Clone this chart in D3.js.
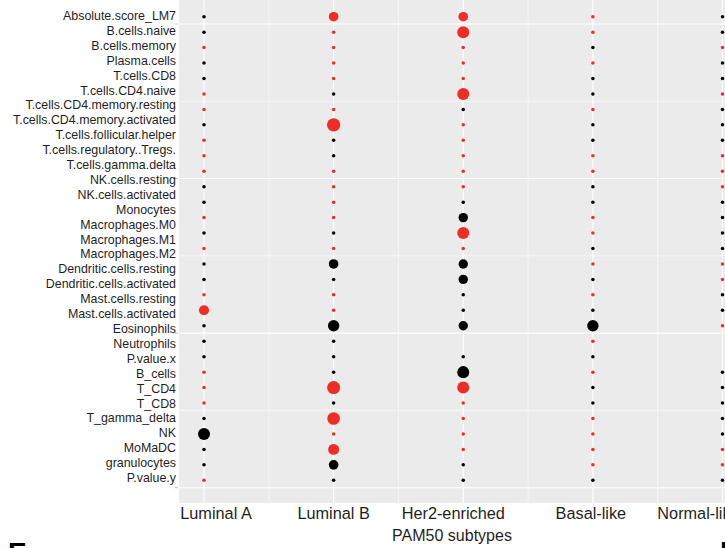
<!DOCTYPE html>
<html>
<head>
<meta charset="utf-8">
<script src="https://cdn.jsdelivr.net/npm/d3@7"></script>
<style>
  html, body { margin: 0; padding: 0; background: #fff; }
  svg { display: block; font-family: "Liberation Sans", Arial, sans-serif; }
</style>
</head>
<body>
<svg id="chart" width="725" height="548"></svg>
<script>
// ---------- data ----------
const subtypes = ["Luminal A", "Luminal B", "Her2-enriched", "Basal-like", "Normal-like"];

const rowLabels = [
  "Absolute.score_LM7", "B.cells.naive", "B.cells.memory", "Plasma.cells", "T.cells.CD8",
  "T.cells.CD4.naive", "T.cells.CD4.memory.resting", "T.cells.CD4.memory.activated",
  "T.cells.follicular.helper", "T.cells.regulatory..Tregs.", "T.cells.gamma.delta",
  "NK.cells.resting", "NK.cells.activated", "Monocytes", "Macrophages.M0", "Macrophages.M1",
  "Macrophages.M2", "Dendritic.cells.resting", "Dendritic.cells.activated", "Mast.cells.resting",
  "Mast.cells.activated", "Eosinophils", "Neutrophils", "P.value.x", "B_cells", "T_CD4", "T_CD8",
  "T_gamma_delta", "NK", "MoMaDC", "granulocytes", "P.value.y"
];

const xTitle = "PAM50 subtypes";

// direction per dot row: "r" = red (up), "b" = black (down), null = missing
const dirLumA   = ["b","b","r","b","b","r","r","b","r","r","r","b","b","r","b","r","b","b","r","r","b","b","b","r","r","r","b","b","b","b","r"];
const dirLumB   = ["r","r","r","r","r","b","r","r","b","b","r","r","r","r","b","r","b","b","r","r","b","b","b","b","r","b","r","r","r","b","b"];
const dirHer2   = ["r","r","r","r","r","r","b","r","r","r","r","r","b","b","r","r","b","b","b","b","b",null,"b","b","r","r","r","r","r","b","b"];
const dirBasal  = ["r","r","b","r","b","b","r","b","b","r","r","b","b","r","r","b","r","b","r","b","b","r","b","r","b","b","r","r","r","r","b"];
const dirNormal = ["b","b","r","b","b","r","b","b","b","r","r","r","b","b","b","b","r","r","b","b","r",null,null,"b","b","b","b","b","r","r","b"];

// significance value per dot row (drives point size)
const sigLumA   = [0.5,0.5,0.5,0.5,0.5,0.5,0.5,0.5,0.5,0.5,0.5,0.5,0.5,0.5,0.5,0.5,0.5,0.5,0.5,4.1,0.5,0.5,0.5,0.5,0.5,0.5,0.5,5.9,0.5,0.5,0.5];
const sigLumB   = [3.8,0.5,0.5,0.5,0.5,0.5,0.5,7.3,0.5,0.5,0.5,0.5,0.5,0.5,0.5,0.5,3.8,0.5,0.5,0.5,5.3,0.5,0.5,0.5,6.9,0.5,6.5,0.5,4.9,3.8,0.5];
const sigHer2   = [3.8,5.9,0.5,0.5,0.5,5.9,0.5,0.5,0.5,0.5,0.5,0.5,0.5,3.6,5.9,0.5,3.6,3.6,0.5,0.5,3.6,null,0.5,5.9,5.9,0.5,0.5,0.5,0.5,0.5,0.5];
const sigBasal  = [0.5,0.5,0.5,0.5,0.5,0.5,0.5,0.5,0.5,0.5,0.5,0.5,0.5,0.5,0.5,0.5,0.5,0.5,0.5,0.5,5.3,0.5,0.5,0.5,0.5,0.5,0.5,0.5,0.5,0.5,0.5];
const sigNormal = [0.5,0.5,0.5,0.5,0.5,0.5,0.5,0.5,0.5,0.5,0.5,0.5,0.5,0.5,0.5,0.5,0.5,0.5,0.5,0.5,0.5,null,null,0.5,0.5,0.5,0.5,0.5,0.5,0.5,0.5];

const dirs = [dirLumA, dirLumB, dirHer2, dirBasal, dirNormal];
const sigs = [sigLumA, sigLumB, sigHer2, sigBasal, sigNormal];

// ---------- build ----------
const points = [];
subtypes.forEach((s, i) => {
  dirs[i].forEach((d, j) => {
    if (d !== null && sigs[i][j] !== null) points.push({ subtype: s, row: j, dir: d, sig: sigs[i][j] });
  });
});

const svg = d3.select("#chart");
const panel = { left: 179, top: 0, right: 760, bottom: 503 };

const x = d3.scalePoint().domain(subtypes).range([204, 722.5]);
const yDot = d3.scalePoint().domain(d3.range(dirLumA.length)).range([16.7, 480.3]);
const yLab = d3.scalePoint().domain(rowLabels).range([15.7, 477.7]);
const grid = d3.scaleLinear().domain([0, 3]).range([24, 487.7]);
const r = d3.scaleSqrt().domain([0, 8]).range([0, 7]);
const color = d3.scaleOrdinal().domain(["r", "b"]).range(["#ee2d25", "#000000"]);

// panel background
svg.append("rect")
  .attr("x", panel.left).attr("y", panel.top)
  .attr("width", panel.right - panel.left).attr("height", panel.bottom - panel.top)
  .attr("fill", "#ebebeb");

const g = svg.append("g");
// minor grid
const step = x.step();
const minorX = subtypes.slice(0, -1).map(s => x(s) + step / 2);
g.selectAll(".vminor").data(minorX).join("line")
  .attr("x1", d => d).attr("x2", d => d).attr("y1", panel.top).attr("y2", panel.bottom)
  .attr("stroke", "#fff").attr("stroke-width", 0.55);
const minorY = [0.5, 1.5, 2.5];
g.selectAll(".hminor").data(minorY).join("line")
  .attr("x1", panel.left).attr("x2", panel.right).attr("y1", d => grid(d)).attr("y2", d => grid(d))
  .attr("stroke", "#fff").attr("stroke-width", 0.55);
// major grid
g.selectAll(".vmajor").data(subtypes).join("line")
  .attr("x1", d => x(d)).attr("x2", d => x(d)).attr("y1", panel.top).attr("y2", panel.bottom)
  .attr("stroke", "#fff").attr("stroke-width", 1.1);
const majorY = grid.ticks(3);
g.selectAll(".hmajor").data(majorY).join("line")
  .attr("x1", panel.left).attr("x2", panel.right).attr("y1", d => grid(d)).attr("y2", d => grid(d))
  .attr("stroke", "#fff").attr("stroke-width", 1.1);
// small ticks left of panel
g.selectAll(".tick").data(majorY).join("line")
  .attr("x1", panel.left - 4).attr("x2", panel.left - 1).attr("y1", d => grid(d)).attr("y2", d => grid(d))
  .attr("stroke", "#b0b0b0").attr("stroke-width", 0.8);

// dots
svg.append("g").selectAll("circle").data(points).join("circle")
  .attr("cx", d => x(d.subtype))
  .attr("cy", d => yDot(d.row))
  .attr("r", d => r(d.sig))
  .attr("fill", d => color(d.dir));

// y labels
svg.append("g").selectAll("text").data(rowLabels).join("text")
  .attr("x", 176).attr("y", d => yLab(d)).attr("dy", "0.35em")
  .attr("text-anchor", "end").attr("font-size", "12.4px").attr("fill", "#1f1f1f")
  .text(d => d);

// x labels (placement offsets of the original composite)
const xLabelShift = [12, 0, -10, -2, -24];
svg.append("g").selectAll("text").data(subtypes).join("text")
  .attr("x", (d, i) => x(d) + xLabelShift[i]).attr("y", 519)
  .attr("text-anchor", "middle").attr("font-size", "16.3px").attr("fill", "#1f1f1f")
  .text(d => d);

svg.append("text")
  .attr("x", 452).attr("y", 541).attr("text-anchor", "middle")
  .attr("font-size", "16px").attr("fill", "#1f1f1f").text(xTitle);

// next-panel letters, cropped by the frame as in the source figure
svg.append("text").attr("x", 8).attr("y", 562).attr("font-size", "28px").attr("font-weight", "bold").attr("fill", "#000").text("E");
svg.append("text").attr("x", 720).attr("y", 561).attr("font-size", "28px").attr("font-weight", "bold").attr("fill", "#000").text("F");
</script>
</body>
</html>
